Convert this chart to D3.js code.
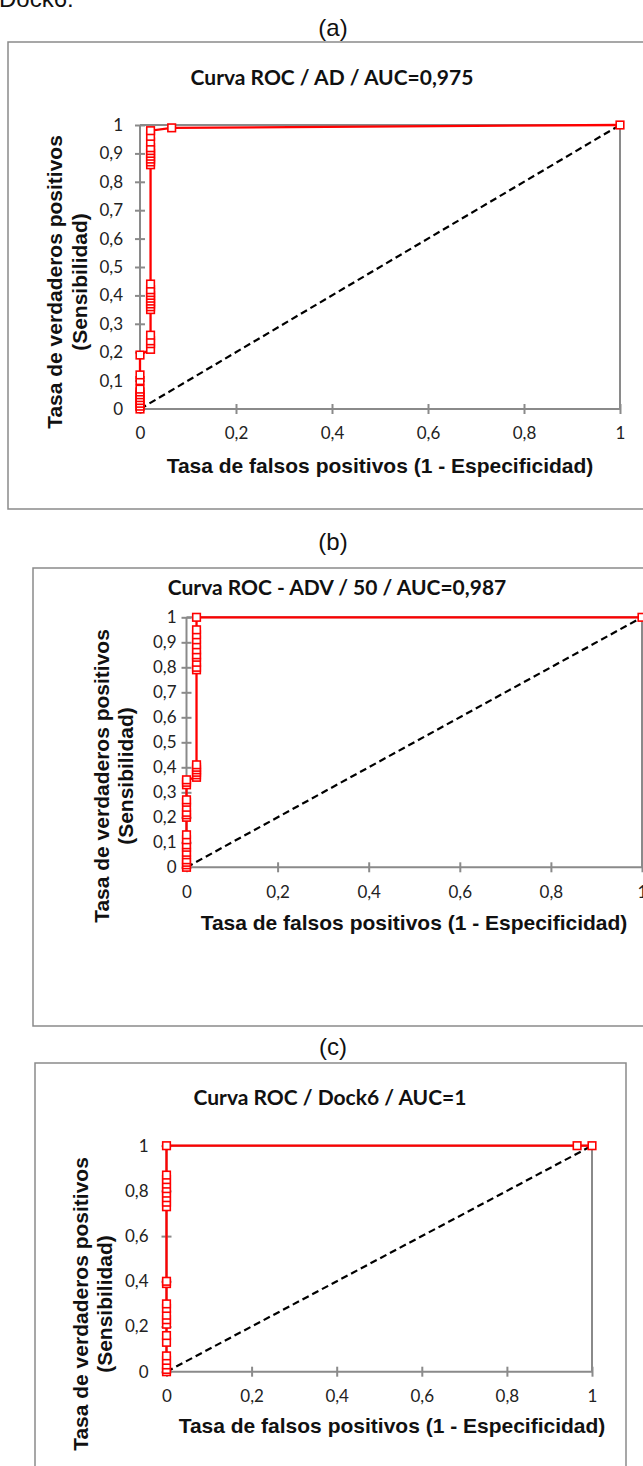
<!DOCTYPE html>
<html>
<head>
<meta charset="utf-8">
<script src="https://cdn.jsdelivr.net/npm/d3@7"></script>
<style>
  html, body { margin: 0; padding: 0; background: #fff; }
  svg { display: block; }
</style>
</head>
<body>
<script>
// ROC curves: false positive rate (x) vs. true positive rate (y)

// (a) AD
const fprA = [0,0,0,0,0,0,0,0,0,0,0,
  0.022,0.022,0.022,0.022,
  0.022,0.022,0.022,0.022,0.022,0.022,0.022,0.022,0.022,
  0.022,0.022,0.022,0.022,0.022,0.022,0.022,0.022,0.022,0.022,
  0.066,1];
const tprA = [0,0.01,0.02,0.03,0.04,0.05,0.06,0.07,0.10,0.12,0.19,
  0.21,0.23,0.24,0.26,
  0.35,0.36,0.37,0.38,0.39,0.40,0.41,0.42,0.44,
  0.86,0.87,0.88,0.89,0.90,0.91,0.92,0.94,0.96,0.98,
  0.99,1];

// (b) ADV / 50
const fprB = [0,0,0,0,0,0,0,0,0,0,
  0,0,0,0,0,0,
  0,0,0,
  0.022,0.022,0.022,0.022,0.022,0.022,
  0.022,0.022,0.022,0.022,0.022,0.022,0.022,0.022,0.022,0.022,
  0.022,1];
const tprB = [0,0.01,0.02,0.03,0.05,0.06,0.08,0.09,0.11,0.13,
  0.20,0.21,0.22,0.24,0.26,0.27,
  0.33,0.34,0.35,
  0.36,0.37,0.38,0.39,0.40,0.41,
  0.79,0.80,0.82,0.84,0.85,0.87,0.89,0.91,0.93,0.95,
  1,1];

// (c) Dock6
const fprC = [0,0,0,0,0,0,0,0,0,0,0,0,0,0,0,0,0,0,0,0,0,0,0,0.965,1];
const tprC = [0,0.01,0.03,0.05,0.07,0.13,0.16,0.21,0.23,0.25,0.28,0.30,0.39,0.40,
  0.73,0.75,0.77,0.79,0.81,0.83,0.85,0.87,1,1,1];

const xTicks = [0,0.2,0.4,0.6,0.8,1];
const yTicksFine = [0,0.1,0.2,0.3,0.4,0.5,0.6,0.7,0.8,0.9,1];
const yTicksCoarse = [0,0.2,0.4,0.6,0.8,1];

const captions = ["(a)","(b)","(c)"];
const titles = ["Curva ROC / AD / AUC=0,975","Curva ROC - ADV / 50 / AUC=0,987","Curva ROC / Dock6 / AUC=1"];
const xAxisTitle = "Tasa de falsos positivos (1 - Especificidad)";
const yAxisTitle = ["Tasa de verdaderos positivos","(Sensibilidad)"];
const leadText = "Dock6:";

const W = 643, H = 1466;
const GRAY = "#8a8a8a", RED = "#ff0000";
const fmt = d => String(+d.toFixed(1)).replace(".", ",");

const svg = d3.select("body").append("svg")
  .attr("width", W).attr("height", H)
  .attr("viewBox", `0 0 ${W} ${H}`);
svg.append("rect").attr("width", W).attr("height", H).attr("fill", "#fff");

// running text above the first figure (mostly cut off by the top edge)
svg.append("text").attr("x", -1).attr("y", 6.5)
  .attr("font-family", "Liberation Sans, Arial, sans-serif").attr("font-size", 24)
  .attr("fill", "#111").text(leadText);

const panels = [
  { fpr: fprA, tpr: tprA, yTicks: yTicksFine, caption: captions[0], title: titles[0],
    frame: [8, 42, 700, 467], px: [140, 620], py: [409, 125],
    capY: 36, titleX: 332, titleY: 85, xtX: 380, xtY: 473, ytC: 282, yt1: 62, yt2: 87,
    yPad: 12, xPad: 13 },
  { fpr: fprB, tpr: tprB, yTicks: yTicksFine, caption: captions[1], title: titles[1],
    frame: [33, 568, 700, 458], px: [186.5, 642], py: [867.3, 617.3],
    capY: 550, titleX: 337, titleY: 595, xtX: 414, xtY: 930, ytC: 776, yt1: 109, yt2: 133,
    yPad: 5, xPad: 14 },
  { fpr: fprC, tpr: tprC, yTicks: yTicksCoarse, caption: captions[2], title: titles[2],
    frame: [35, 1063, 591, 500], px: [166.5, 592], py: [1371.7, 1145.7],
    capY: 1055, titleX: 330, titleY: 1105, xtX: 392, xtY: 1433, ytC: 1304, yt1: 88, yt2: 112,
    yPad: 13, xPad: 13 }
];

panels.forEach(p => {
  const g = svg.append("g");
  const x = d3.scaleLinear().domain([0, 1]).range(p.px);
  const y = d3.scaleLinear().domain([0, 1]).range(p.py);

  // caption above the chart box
  g.append("text").attr("x", 333).attr("y", p.capY).attr("text-anchor", "middle")
    .attr("font-family", "Liberation Sans, Arial, sans-serif").attr("font-size", 24)
    .attr("fill", "#111").text(p.caption);

  // chart box
  const [fx, fy, fw, fh] = p.frame;
  g.append("rect").attr("x", fx).attr("y", fy).attr("width", fw).attr("height", fh)
    .attr("fill", "#fff").attr("stroke", GRAY).attr("stroke-width", 1.5);

  // chart title
  g.append("text").attr("x", p.titleX).attr("y", p.titleY).attr("text-anchor", "middle")
    .attr("font-family", "Lato, sans-serif").attr("font-weight", 700).attr("font-size", 21)
    .attr("fill", "#111").text(p.title);

  // plot-area border (top and right)
  g.append("path")
    .attr("d", `M${x(0)},${y(1)}H${x(1)}V${y(0)}`)
    .attr("fill", "none").attr("stroke", GRAY).attr("stroke-width", 2);

  // axes with ticks crossing the axis line
  const ax = g.append("g").attr("transform", `translate(0,${y(0)})`)
    .call(d3.axisBottom(x).tickValues(xTicks).tickFormat(fmt).tickSize(5).tickPadding(p.xPad));
  ax.selectAll(".tick line").attr("y1", -5);
  const ay = g.append("g").attr("transform", `translate(${x(0)},0)`)
    .call(d3.axisLeft(y).tickValues(p.yTicks).tickFormat(fmt).tickSize(5).tickPadding(p.yPad));
  ay.selectAll(".tick line").attr("x1", 5);
  [ax, ay].forEach(a => {
    a.select(".domain").attr("stroke", GRAY).attr("stroke-width", 2);
    a.selectAll(".tick line").attr("stroke", GRAY).attr("stroke-width", 2);
    a.selectAll(".tick text").attr("font-family", "Lato, sans-serif")
      .attr("font-size", 17).attr("fill", "#222");
  });
  ax.select(".domain").attr("d", `M${x(0)},0H${x(1)}`);
  ay.select(".domain").attr("d", `M0,${y(0)}V${y(1)}`);

  // axis titles
  g.append("text").attr("x", p.xtX).attr("y", p.xtY).attr("text-anchor", "middle")
    .attr("font-family", "Liberation Sans, Arial, sans-serif").attr("font-weight", 700)
    .attr("font-size", 21).attr("fill", "#111").text(xAxisTitle);
  [p.yt1, p.yt2].forEach((bx, i) => {
    g.append("text").attr("transform", `translate(${bx},${p.ytC}) rotate(-90)`)
      .attr("text-anchor", "middle")
      .attr("font-family", "Liberation Sans, Arial, sans-serif").attr("font-weight", 700)
      .attr("font-size", 21).attr("fill", "#111").text(yAxisTitle[i]);
  });

  // chance diagonal
  g.append("path")
    .attr("d", d3.line()([[x(0), y(0)], [x(1), y(1)]]))
    .attr("fill", "none").attr("stroke", "#000").attr("stroke-width", 2.2)
    .attr("stroke-dasharray", "7,4");

  // ROC curve
  const pts = p.fpr.map((f, i) => [f, p.tpr[i]]);
  g.append("path").datum(pts)
    .attr("d", d3.line().x(d => x(d[0])).y(d => y(d[1])))
    .attr("fill", "none").attr("stroke", RED).attr("stroke-width", 2.3);
  g.selectAll(null).data(pts).enter().append("rect")
    .attr("x", d => x(d[0]) - 3.8).attr("y", d => y(d[1]) - 3.8)
    .attr("width", 7.6).attr("height", 7.6)
    .attr("fill", "#fff").attr("stroke", RED).attr("stroke-width", 1.6);
});
</script>
</body>
</html>
